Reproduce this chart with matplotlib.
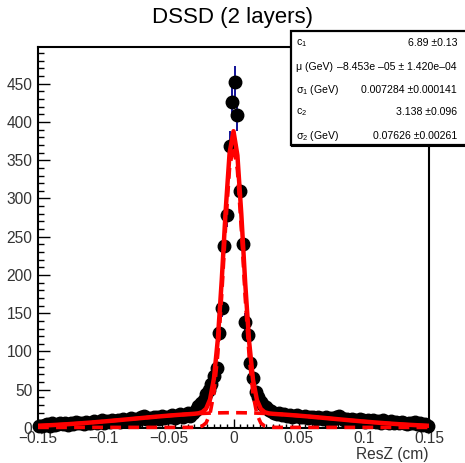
import numpy as np
import matplotlib
matplotlib.use('Agg')
import matplotlib.pyplot as plt
from matplotlib.patches import Rectangle
from matplotlib.ticker import MultipleLocator

plt.rcParams['font.family'] = ['Liberation Sans', 'DejaVu Sans']
plt.rcParams['mathtext.fontset'] = 'custom'
plt.rcParams['mathtext.rm'] = 'Liberation Sans'
plt.rcParams['mathtext.it'] = 'Liberation Sans:italic'

# histogram: 150 bins of 0.002 cm between -0.15 and 0.15
bin_edges = np.linspace(-0.15, 0.15, 151)
counts_left = [3, 2, 4, 5, 3, 6, 4, 5, 7, 5,
               6, 4, 7, 5, 8, 6, 7, 5, 8, 7,
               6, 9, 7, 8, 10, 7, 9, 8, 11, 9,
               10, 8, 12, 9, 11, 13, 10, 12, 11, 14,
               16, 12, 13, 11, 14, 15, 12, 16, 13, 14,
               15, 17, 13, 16, 18, 15, 17, 19, 16, 20,
               24]
counts_core = [29, 33, 37, 44, 50, 57, 68, 78, 124, 157,
               238, 279, 369, 426, 452, 409, 310, 240, 139, 122,
               85, 65, 47, 40, 34, 30, 27, 24]
counts_right = [22, 20, 18, 19, 17, 18, 16, 17, 15, 16,
                17, 14, 15, 16, 13, 15, 14, 12, 14, 13,
                12, 14, 11, 13, 12, 15, 16, 13, 11, 12,
                10, 12, 11, 9, 12, 10, 8, 11, 9, 10,
                8, 9, 7, 10, 8, 6, 9, 7, 8, 6,
                8, 7, 5, 7, 6, 8, 5, 6, 4, 5,
                3]
counts = np.array(counts_left + counts_core + counts_right, dtype=float)
centers = 0.5 * (bin_edges[:-1] + bin_edges[1:])

# fit (double gaussian), values from the stats box; heights
mu = -8.453e-05
sigma1 = 0.007284
sigma2 = 0.07626
amp1 = 368.0
amp2 = 20.0

stat_labels = ['c$_1$', 'μ (GeV)', 'σ$_1$ (GeV)', 'c$_2$', 'σ$_2$ (GeV)']
stat_values = ['6.89 ±0.13', '–8.453e –05 ± 1.420e–04', '0.007284 ±0.000141',
               '3.138 ±0.096', '0.07626 ±0.00261']

fig = plt.figure(figsize=(4.65, 4.63), dpi=100)
ax = fig.add_axes([38 / 465, 35 / 463, 391 / 465, 381 / 463])

ax.errorbar(centers, counts, yerr=np.sqrt(counts), fmt='none', ecolor='#00008f',
            elinewidth=1.3, zorder=2, clip_on=False)
ax.plot(centers, counts, 'o', color='black', markersize=9, zorder=3, clip_on=False)

xf = np.linspace(-0.15, 0.15, 101)
g1 = amp1 * np.exp(-0.5 * ((xf - mu) / sigma1) ** 2)
g2 = amp2 * np.exp(-0.5 * ((xf - mu) / sigma2) ** 2)
ax.plot(xf, g1 + 0.8, color='red', lw=2.6, dashes=(3, 2), zorder=4, clip_on=False)
ax.plot(xf, g2, color='red', lw=2.6, dashes=(3, 2), zorder=4)
ax.plot(xf, g1 + g2, color='red', lw=3.2, zorder=5)

ax.set_xlim(-0.15, 0.15)
ax.set_ylim(0, 498)
xt = [-0.15, -0.1, -0.05, 0, 0.05, 0.1, 0.15]
ax.set_xticks(xt)
ax.set_xticklabels(['−0.15', '−0.1', '−0.05', '0', '0.05', '0.1', '0.15'])
ax.set_yticks(range(0, 451, 50))
ax.xaxis.set_minor_locator(MultipleLocator(0.005))
ax.yaxis.set_minor_locator(MultipleLocator(10))
ax.tick_params(axis='both', which='both', direction='in', top=False, right=False,
               labelsize=11.2, labelcolor='#333333', width=1)
ax.tick_params(axis='x', which='major', length=6.5, pad=2.5)
ax.tick_params(axis='x', which='minor', length=3.2)
ax.tick_params(axis='y', which='major', length=8.5, pad=4)
ax.tick_params(axis='y', which='minor', length=4.3)
for s in ax.spines.values():
    s.set_linewidth(1.5)

fig.text(428 / 465, 1 - 455 / 463, 'ResZ (cm)', ha='right', va='center',
         fontsize=11.2, color='#333333')
fig.text(232 / 465, 1 - 17 / 463, 'DSSD (2 layers)', ha='center', va='center',
         fontsize=16)

# stats box
bx0, by0, by1 = 291 / 465, 1 - 145 / 463, 1 - 31 / 463
fig.patches.append(Rectangle((bx0, by0), 1.02 - bx0, by1 - by0, transform=fig.transFigure,
                             facecolor='white', edgecolor='black', lw=1.6, zorder=10))
fig.lines.append(plt.Line2D([bx0 + 0.003, 1.0], [by0 - 0.003, by0 - 0.003],
                            transform=fig.transFigure, color='black', lw=1.5, zorder=10))
rows = [43, 67, 90, 112, 136]
for r, lab, val in zip(rows, stat_labels, stat_values):
    fig.text(296 / 465, 1 - r / 463, lab, ha='left', va='center', fontsize=7.6, zorder=11)
    fig.text(457 / 465, 1 - r / 463, val, ha='right', va='center', fontsize=7.6, zorder=11)

fig.savefig('out.png', dpi=100)
